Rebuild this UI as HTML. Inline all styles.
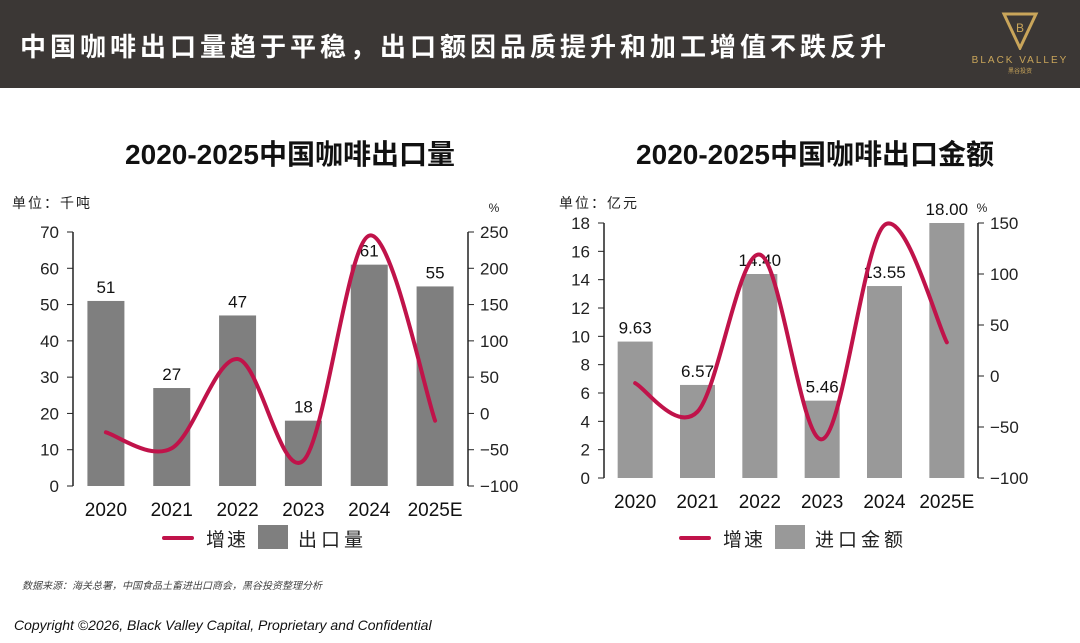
<!DOCTYPE html>
<html><head><meta charset="utf-8">
<style>
body{margin:0;width:1080px;height:643px;background:#fff;overflow:hidden;font-family:"Liberation Sans","Noto Sans CJK SC",sans-serif;position:relative}
.hdr{position:absolute;left:0;top:0;width:1080px;height:88px;background:#3b3735}
.hdr h1{position:absolute;left:20px;top:27px;margin:0;color:#fff;font-size:26px;font-weight:bold;letter-spacing:4px;font-family:"Liberation Sans","Noto Sans CJK SC",sans-serif}
.logo{position:absolute;left:960px;top:10px;width:120px;height:76px;color:#c9a55a;text-align:center}
.src{position:absolute;left:22px;top:577px;font-size:10px;font-style:italic;color:#444}
.foot{position:absolute;left:14px;top:617px;font-size:14px;font-style:italic;color:#111}
svg text{font-family:"Liberation Sans","Noto Sans CJK SC",sans-serif}
</style></head><body>
<div class="hdr">
<h1>中国咖啡出口量趋于平稳，出口额因品质提升和加工增值不跌反升</h1>
<div class="logo">
<svg width="60" height="40" viewBox="0 0 60 40"><polygon points="14,4 46,4 30,38" fill="none" stroke="#c9a55a" stroke-width="3"/><text x="30" y="22" font-size="12" fill="#c9a55a" text-anchor="middle">B</text></svg>
<div style="font-size:10px;letter-spacing:2px">BLACK VALLEY</div>
<div style="font-size:6px">黑谷投资</div>
</div>
</div>
<svg id="c" width="1080" height="643" style="position:absolute;left:0;top:0"></svg>
<div class="src">数据来源：海关总署，中国食品土畜进出口商会，黑谷投资整理分析</div>
<div class="foot">Copyright ©2026, Black Valley Capital, Proprietary and Confidential</div>
<script>
const categories=["2020","2021","2022","2023","2024","2025E"];
const volumeValues=[51,27,47,18,61,55];
const volumeLabels=["51","27","47","18","61","55"];
const volumeGrowth=[-26,-48,75,-65,245,-10];
const valueValues=[9.63,6.57,14.40,5.46,13.55,18.00];
const valueLabels=["9.63","6.57","14.40","5.46","13.55","18.00"];
const valueGrowth=[-7,-35,119,-62,148,33];
const leftTicks=[0,10,20,30,40,50,60,70];
const leftRTicks=[-100,-50,0,50,100,150,200,250];
const rightTicks=[0,2,4,6,8,10,12,14,16,18];
const rightRTicks=[-100,-50,0,50,100,150];

const svg=document.getElementById('c');
const NS='http://www.w3.org/2000/svg';
function mk(tag,attrs,parent,txt){const e=document.createElementNS(NS,tag);for(const k in attrs)e.setAttribute(k,attrs[k]);if(txt!==undefined)e.textContent=txt;(parent||svg).appendChild(e);return e;}

function chart(o){
  const g=mk('g',{});
  
  
  const yL=v=>o.y0-(v-o.lmin)/(o.lmax-o.lmin)*(o.y0-o.y1);
  const yR=v=>o.y0-(v-o.rmin)/(o.rmax-o.rmin)*(o.y0-o.y1);
  const step=(o.xr-o.xl)/categories.length;
  const xc=i=>o.xl+step*(i+0.5);
  const t=mk('text',{x:o.tx,y:164,'font-size':28,'font-weight':'bold','text-anchor':'middle',fill:'#111'},g,o.title);
  
  const u=mk('text',{x:o.ux,y:208,'font-size':14,fill:'#222','letter-spacing':2},g,o.unit);
  
  const p=mk('text',{x:o.xr+o.pctdx,y:212,'font-size':12,fill:'#222','text-anchor':'middle'},g,'%');
  
  const la=mk('line',{x1:o.xl,y1:o.y1,x2:o.xl,y2:o.y0,stroke:'#222','stroke-width':1.5},g);
  
  o.lt.forEach(v=>{const y=yL(v);mk('line',{x1:o.xl-6,y1:y,x2:o.xl,y2:y,stroke:'#222'},g);
    const tx=mk('text',{x:o.xl-14,y:y+6,'font-size':17,'text-anchor':'end',fill:'#222'},g,v);
    });
  const ra=mk('line',{x1:o.xr,y1:o.y1,x2:o.xr,y2:o.y0,stroke:'#222','stroke-width':1.5},g);
  
  o.rt.forEach(v=>{const y=yR(v);mk('line',{x1:o.xr,y1:y,x2:o.xr+6,y2:y,stroke:'#222'},g);
    const tx=mk('text',{x:o.xr+12,y:y+6,'font-size':17,fill:'#222'},g,(v<0?'−'+(-v):v));
    });
  o.bars.forEach((v,i)=>{const x=xc(i)-o.bw/2;const y=yL(v);
    const r=mk('rect',{x:x,y:y,width:o.bw,height:o.y0-y,fill:o.barColor},g);
    
    const lb=mk('text',{x:xc(i),y:y-8,'font-size':17,'text-anchor':'middle',fill:'#111','font-family':o.lblFont},g,o.labels[i]);
    
    const c=mk('text',{x:xc(i),y:o.y0+30,'font-size':19,'text-anchor':'middle',fill:'#111'},g,categories[i]);
    
  });
  const pts=o.growth.map((v,i)=>[xc(i),yR(v)]);
  let d='M'+pts[0][0]+','+pts[0][1];
  for(let i=0;i<pts.length-1;i++){const p0=pts[i-1]||pts[i],p1=pts[i],p2=pts[i+1],p3=pts[i+2]||p2;
    d+=' C'+(p1[0]+(p2[0]-p0[0])/6)+','+(p1[1]+(p2[1]-p0[1])/6)+' '+(p2[0]-(p3[0]-p1[0])/6)+','+(p2[1]-(p3[1]-p1[1])/6)+' '+p2[0]+','+p2[1];}
  const ln=mk('path',{d:d,fill:'none',stroke:'#c0134a','stroke-width':4,'stroke-linecap':'round'},g);
  
  const lg=mk('g',{},g);
  
  mk('line',{x1:o.lgx,y1:538,x2:o.lgx+28,y2:538,stroke:'#c0134a','stroke-width':4,'stroke-linecap':'round'},lg);
  mk('text',{x:o.lgx+42,y:546,'font-size':19,fill:'#222','letter-spacing':2},lg,'增速');
  mk('rect',{x:o.lgx+94,y:525,width:30,height:24,fill:o.barColor},lg);
  mk('text',{x:o.lgx+134,y:546,'font-size':19,fill:'#222','letter-spacing':4},lg,o.legendBar);
}
chart({name:'export-volume-chart',title:'2020-2025中国咖啡出口量',tx:290,ux:12,unit:'单位：千吨',
  xl:73,xr:468,y0:486,y1:232,lmin:0,lmax:70,rmin:-100,rmax:250,lt:leftTicks,rt:leftRTicks,
  bars:volumeValues,labels:volumeLabels,growth:volumeGrowth,bw:37,barColor:'#7f7f7f',pctdx:26,lblFont:'"Liberation Sans",sans-serif',
  lgx:164,legendBar:'出口量'});
chart({name:'export-value-chart',title:'2020-2025中国咖啡出口金额',tx:815,ux:559,unit:'单位：亿元',
  xl:604,xr:978,y0:478,y1:223,lmin:0,lmax:18,rmin:-100,rmax:150,lt:rightTicks,rt:rightRTicks,
  bars:valueValues,labels:valueLabels,growth:valueGrowth,bw:35,barColor:'#999',pctdx:4,lblFont:'"DejaVu Sans Mono","Liberation Mono",monospace',
  lgx:681,legendBar:'进口金额'});
</script>
</body></html>
